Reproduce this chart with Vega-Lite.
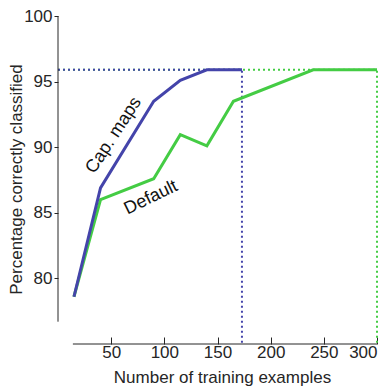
{
  "$schema": "https://vega.github.io/schema/vega-lite/v6.json",
  "width": 319,
  "height": 328,
  "autosize": {"type": "none"},
  "padding": {"left": 58, "top": 16, "right": 10, "bottom": 42},
  "background": "white",
  "config": {
    "view": {"stroke": null},
    "font": "Liberation Sans",
    "axis": {"grid": false, "domain": false, "labelFont": "Liberation Sans", "titleFont": "Liberation Sans", "labelFontSize": 17, "titleFontSize": 17, "titleFontWeight": "normal", "labelColor": "#262626", "titleColor": "#262626", "tickColor": "#262626"}
  },
  "datasets": {
    "curves": [
      {"series": "Default", "x": 15, "y": 78.6},
      {"series": "Default", "x": 40, "y": 86.0},
      {"series": "Default", "x": 90, "y": 87.6},
      {"series": "Default", "x": 115, "y": 90.95},
      {"series": "Default", "x": 140, "y": 90.1},
      {"series": "Default", "x": 165, "y": 93.5},
      {"series": "Default", "x": 240, "y": 95.9},
      {"series": "Default", "x": 300, "y": 95.9},
      {"series": "Cap. maps", "x": 15, "y": 78.6},
      {"series": "Cap. maps", "x": 40, "y": 86.9},
      {"series": "Cap. maps", "x": 90, "y": 93.5},
      {"series": "Cap. maps", "x": 115, "y": 95.1},
      {"series": "Cap. maps", "x": 140, "y": 95.9},
      {"series": "Cap. maps", "x": 173, "y": 95.9}
    ],
    "guides": [
      {"series": "Default", "o": 1, "x": 0, "y": 95.9},
      {"series": "Default", "o": 2, "x": 300, "y": 95.9},
      {"series": "Default", "o": 3, "x": 300, "y": 75},
      {"series": "Cap. maps", "o": 1, "x": 0, "y": 95.9},
      {"series": "Cap. maps", "o": 2, "x": 173, "y": 95.9},
      {"series": "Cap. maps", "o": 3, "x": 173, "y": 75}
    ],
    "axislines": [
      {"x": 0, "x2": 0, "y": 76.7, "y2": 100},
      {"x": 14, "x2": 300, "y": 75, "y2": 75}
    ],
    "labels": [
      {"series": "Cap. maps", "x": 52.5, "y": 90.9, "text": "Cap. maps"},
      {"series": "Default", "x": 87.5, "y": 86.15, "text": "Default"}
    ]
  },
  "layer": [
    {
      "data": {"name": "guides"},
      "mark": {"type": "line", "strokeWidth": 2, "strokeDash": [2, 3]},
      "encoding": {
        "x": {"field": "x", "type": "quantitative", "scale": {"domain": [0, 300], "nice": false, "zero": false}, "axis": {"values": [50, 100, 150, 200, 250, 300], "title": "Number of training examples", "tickSize": -7, "labelPadding": 7, "titlePadding": 9, "titleX": 164}},
        "y": {"field": "y", "type": "quantitative", "scale": {"domain": [75, 100], "nice": false, "zero": false}, "axis": {"values": [80, 85, 90, 95, 100], "title": "Percentage correctly classified", "tickSize": 4, "labelPadding": 2, "titlePadding": -2, "titleY": 163}},
        "color": {"field": "series", "type": "nominal", "scale": {"domain": ["Default", "Cap. maps"], "range": ["#44CC44", "#4444AA"]}, "legend": null},
        "order": {"field": "o", "type": "quantitative"},
        "detail": {"field": "series"}
      }
    },
    {
      "data": {"name": "axislines"},
      "mark": {"type": "rule", "color": "#262626", "strokeWidth": 1},
      "encoding": {
        "x": {"field": "x", "type": "quantitative"},
        "x2": {"field": "x2"},
        "y": {"field": "y", "type": "quantitative"},
        "y2": {"field": "y2"}
      }
    },
    {
      "data": {"name": "curves"},
      "mark": {"type": "line", "strokeWidth": 3},
      "encoding": {
        "x": {"field": "x", "type": "quantitative"},
        "y": {"field": "y", "type": "quantitative"},
        "color": {"field": "series", "type": "nominal"},
        "detail": {"field": "series"},
        "order": {"field": "x", "type": "quantitative"}
      }
    },
    {
      "data": {"name": "labels"},
      "transform": [{"filter": "datum.series === 'Cap. maps'"}],
      "mark": {"type": "text", "angle": -57, "fontSize": 18, "font": "Liberation Sans", "color": "#111111", "align": "center", "baseline": "middle"},
      "encoding": {
        "x": {"field": "x", "type": "quantitative"},
        "y": {"field": "y", "type": "quantitative"},
        "text": {"field": "text"}
      }
    },
    {
      "data": {"name": "labels"},
      "transform": [{"filter": "datum.series === 'Default'"}],
      "mark": {"type": "text", "angle": -26, "fontSize": 18, "font": "Liberation Sans", "color": "#111111", "align": "center", "baseline": "middle"},
      "encoding": {
        "x": {"field": "x", "type": "quantitative"},
        "y": {"field": "y", "type": "quantitative"},
        "text": {"field": "text"}
      }
    }
  ]
}
